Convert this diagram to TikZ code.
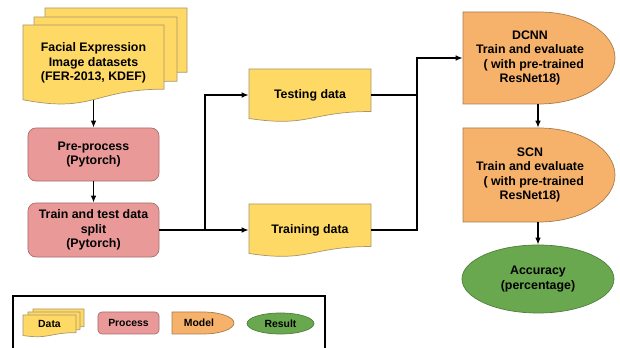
\documentclass[tikz,border=0pt]{standalone}
\usepackage{fontspec}
\setmainfont{Liberation Sans}
\usetikzlibrary{arrows.meta, positioning, calc, shapes.geometric}
\definecolor{datayellow}{HTML}{FFD966}
\definecolor{databorder}{HTML}{A8966A}
\definecolor{procpink}{HTML}{EA9999}
\definecolor{procborder}{HTML}{A86E6E}
\definecolor{modelorange}{HTML}{F6B26B}
\definecolor{modelborder}{HTML}{A67C4E}
\definecolor{resgreen}{HTML}{6AA84F}
\definecolor{resborder}{HTML}{4E7F3A}
\tikzset{
    box/.style={font=\bfseries\fontsize{8.8}{10.3}\selectfont, align=center, inner sep=0pt},
    legendbox/.style={font=\bfseries\fontsize{7.4}{9}\selectfont, align=center, inner sep=0pt},
    datafill/.style={fill=datayellow, draw=databorder, line width=0.5pt},
    modelfill/.style={fill=modelorange, draw=modelborder, line width=0.5pt},
    process/.style={rectangle, rounded corners=0.2cm, fill=procpink, draw=procborder, line width=0.5pt, minimum width=3.275cm, minimum height=1.325cm},
    result/.style={ellipse, fill=resgreen, draw=resborder, line width=0.5pt, minimum width=3.8cm, minimum height=1.7cm},
    arrow/.style={-{Latex[length=5pt, width=4pt]}, line width=0.9pt},
    link/.style={line width=0.9pt}
}
% document shape: x, y of top left, width, height, style
\newcommand{\docshape}[5]{%
    \filldraw[#5] (#1,#2) -- ({#1+#3},#2) -- ({#1+#3},{#2-0.802*#4})
        .. controls ({#1+#3/2},{#2-0.802*#4}) and ({#1+#3/2},{#2-1.107*#4}) .. (#1,{#2-0.934*#4}) -- cycle;
}
% delay shape: x, y of top left, width, height, style
\newcommand{\delayshape}[5]{%
    \filldraw[#5] (#1,#2) -- ({#1+#3/2},#2)
        arc[start angle=90, end angle=-90, x radius={#3/2}, y radius={#4/2}] -- (#1,{#2-#4}) -- cycle;
}

\begin{document}
\begin{tikzpicture}[x=0.025cm, y=0.025cm]
    \clip (0,0) rectangle (620,348);
    % Datasets (stacked documents)
    \docshape{45}{340}{142}{80}{datafill}
    \docshape{34}{331}{143}{80}{datafill}
    \docshape{23}{323}{141}{80}{datafill}
    \node[box, minimum width=3.525cm, minimum height=1.85cm] (data) at (93.5,285) {Facial Expression\\Image datasets\\(FER-2013, KDEF)};
    % Processing steps
    \node[box, process] (prep) at (93.5,193.5) {Pre-process\\(Pytorch)};
    \node[box, process, minimum height=1.35cm] (split) at (93.5,118) {Train and test data\\split\\(Pytorch)};
    % Testing and training data
    \docshape{249}{279}{122}{53}{datafill}
    \node[box, minimum width=3.05cm, minimum height=1.3cm] (test) at (310,253) {Testing data};
    \docshape{249}{144}{122}{53}{datafill}
    \node[box, minimum width=3.05cm, minimum height=1.3cm] (train) at (310,118) {Training data};
    % Models
    \delayshape{463}{336}{152}{92}{modelfill}
    \node[box, minimum width=3.35cm, minimum height=2.3cm] (dcnn) at (530,290) {DCNN\\Train and evaluate\\\hspace*{0.6em}( with pre-trained\\ResNet18)};
    \delayshape{463}{220}{152}{94}{modelfill}
    \node[box, minimum width=3.35cm, minimum height=2.35cm] (scn) at (530,173) {SCN\\Train and evaluate\\\hspace*{0.6em}( with pre-trained\\ResNet18)};
    % Result
    \node[box, result] (acc) at (538,69) {Accuracy\\(percentage)};
    % Connectors
    \coordinate (fork) at (205,118);
    \coordinate (merge) at (417,118);
    \draw[arrow] (data.south) -- (prep.north);
    \draw[arrow] (prep.south) -- (split.north);
    \draw[arrow] (split.east) -- (train.west);
    \draw[arrow] (fork) |- (test.west);
    \draw[link] (test.east) -- (test.east -| merge);
    \draw[arrow] (train.east) -- (merge) |- (dcnn.west);
    \draw[arrow] (dcnn.south -| acc.north) -- (scn.north -| acc.north);
    \draw[arrow] (scn.south -| acc.north) -- (acc.north);
    % Legend
    \draw[line width=1.3pt] (13,52) rectangle (325,-10);
    \docshape{33}{39}{51}{22}{datafill}
    \docshape{28}{36}{52}{22}{datafill}
    \docshape{23}{33}{53}{22}{datafill}
    \node[legendbox] (ldata) at (49.5,24) {Data};
    \node[legendbox, process, rounded corners=0.1cm, minimum width=1.525cm, minimum height=0.55cm] (lproc) at (128.5,25) {Process};
    \delayshape{172}{36}{62}{22}{modelfill}
    \node[legendbox] (lmodel) at (199,25) {Model};
    \node[legendbox, result, minimum width=1.675cm, minimum height=0.525cm] (lres) at (280.5,24.5) {Result};
\end{tikzpicture}
\end{document}
